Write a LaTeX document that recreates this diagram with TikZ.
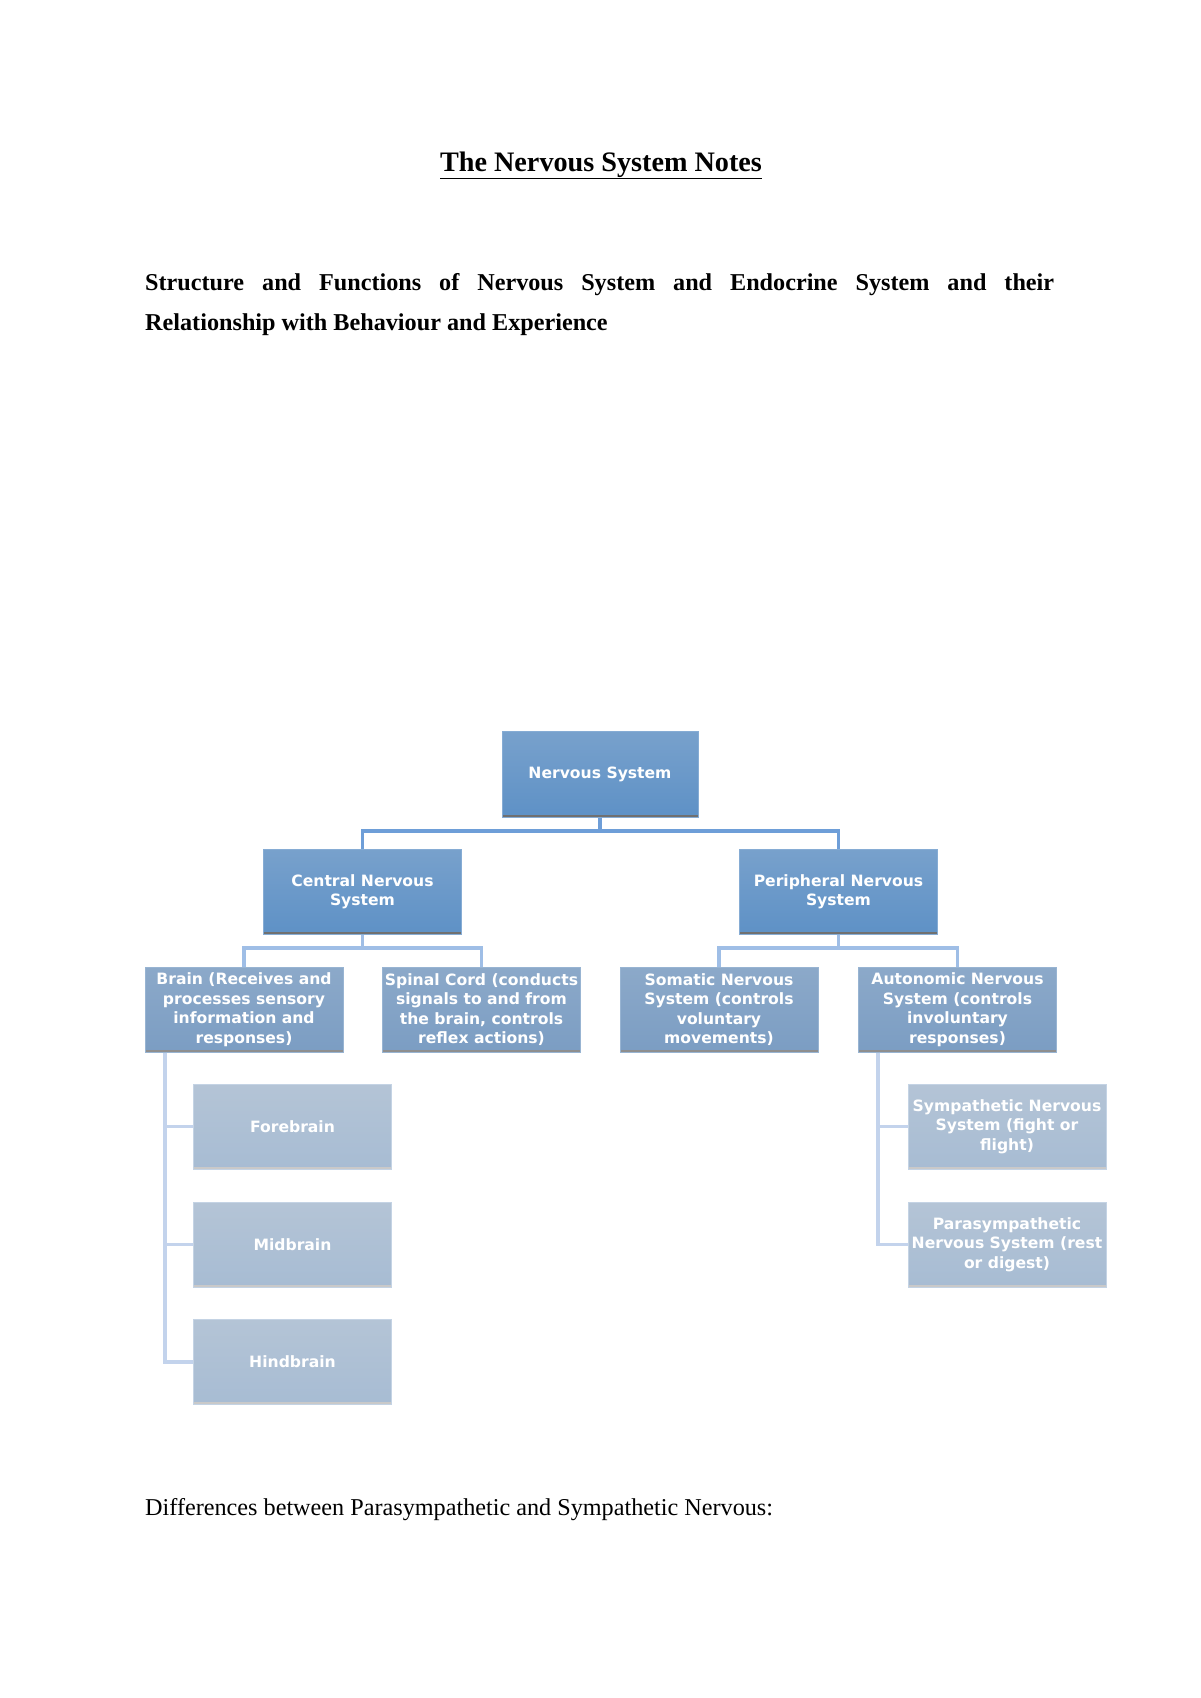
\documentclass[tikz,border=0pt]{standalone}
\usepackage{fontspec}
\setmainfont{Liberation Serif}
\newfontfamily\boxfont{DejaVu Sans}
\usetikzlibrary{shadings}
\definecolor{Aone}{HTML}{78A1CC}
\definecolor{Bone}{HTML}{5E91C6}
\definecolor{Eone}{HTML}{86ACD4}
\definecolor{Sone}{HTML}{707070}
\definecolor{Atwo}{HTML}{8CA9C9}
\definecolor{Btwo}{HTML}{7B9DC3}
\definecolor{Etwo}{HTML}{98B4D2}
\definecolor{Stwo}{HTML}{8E8E8E}
\definecolor{Athree}{HTML}{B4C4D6}
\definecolor{Bthree}{HTML}{A7BCD3}
\definecolor{Ethree}{HTML}{C4D3E4}
\definecolor{Sthree}{HTML}{C9C9C9}
\definecolor{Cone}{HTML}{6E9ED8}
\definecolor{Ctwo}{HTML}{9FBEE6}
\definecolor{Cthree}{HTML}{C3D3EC}
\begin{document}
\begin{tikzpicture}[x=1pt,y=-1pt,
  box/.style={rectangle, inner sep=0pt, minimum width=198pt, minimum height=85pt,
    align=center, text=white, line width=1pt,
    font=\boxfont\bfseries\fontsize{15.6}{19.5}\selectfont},
  lvlone/.style={box, top color=Aone, bottom color=Bone, draw=Eone,
    path picture={\fill[Sone] ([yshift=2.5pt]path picture bounding box.south west) rectangle (path picture bounding box.south east);}},
  lvltwo/.style={box, top color=Atwo, bottom color=Btwo, draw=Etwo,
    path picture={\fill[Stwo] ([yshift=2.5pt]path picture bounding box.south west) rectangle (path picture bounding box.south east);}},
  lvlthree/.style={box, top color=Athree, bottom color=Bthree, draw=Ethree,
    path picture={\fill[Sthree] ([yshift=2.5pt]path picture bounding box.south west) rectangle (path picture bounding box.south east);}},
  linkone/.style={draw=Cone, line width=3.5pt},
  linktwo/.style={draw=Ctwo, line width=3.8pt},
  linkthree/.style={draw=Cthree, line width=3.8pt},
  doctext/.style={anchor=base west, inner sep=0pt, font=\fontsize{24.2}{30}\selectfont}
]
\useasboundingbox[fill=white] (0,0) rectangle (1200,1698);

% texts
\node[anchor=base, inner sep=0pt, font=\bfseries\fontsize{28.2}{34}\selectfont] (title) at (601,171) {\underline{The Nervous System Notes}};
\node[doctext, font=\bfseries\fontsize{24.2}{30}\selectfont] (lineA) at (145,290)
  {\makebox[909pt][s]{Structure and Functions of Nervous System and Endocrine System and their}};
\node[doctext, font=\bfseries\fontsize{24.2}{30}\selectfont] (lineB) at (145,330)
  {Relationship with Behaviour and Experience};
\node[doctext] (diff) at (145,1515) {Differences between Parasympathetic and Sympathetic Nervous:};

% coordinates for bars
\coordinate (barone) at (0,831);
\coordinate (bartwo) at (0,948);
\coordinate (spineL) at (165,0);
\coordinate (spineR) at (878,0);

% connectors drawn first (behind boxes) using named nodes later -> use on background via order
\node[lvlone, minimum width=196pt, minimum height=86pt] (ns) at (600,774) {Nervous System};
\node[lvlone] (cns) at (362.5,891.5) {Central Nervous\\System};
\node[lvlone] (pns) at (838.5,891.5) {Peripheral Nervous\\System};

\node[lvltwo] (brain) at (244,1009.5) {Brain (Receives and\\processes sensory\\information and\\responses)};
\node[lvltwo] (spinal) at (481.5,1009.5) {Spinal Cord (conducts\\signals to and from\\the brain, controls\\reflex actions)};
\node[lvltwo] (somatic) at (719,1009.5) {Somatic Nervous\\System (controls\\voluntary\\movements)};
\node[lvltwo] (auto) at (957.5,1009.5) {Autonomic Nervous\\System (controls\\involuntary\\responses)};

\node[lvlthree] (fore) at (292.5,1126.5) {Forebrain};
\node[lvlthree] (mid) at (292.5,1244.5) {Midbrain};
\node[lvlthree] (hind) at (292.5,1362) {Hindbrain};
\node[lvlthree] (symp) at (1007,1126.5) {Sympathetic Nervous\\System (fight or\\flight)};
\node[lvlthree] (para) at (1007,1244.5) {Parasympathetic\\Nervous System (rest\\or digest)};

% connectors
\draw[linkone] (ns.south) -- (ns.south |- barone) -| (cns.north);
\draw[linkone] (ns.south |- barone) -| (pns.north);
\draw[linktwo] (cns.south) -- (cns.south |- bartwo) -| (brain.north);
\draw[linktwo] (cns.south |- bartwo) -| (spinal.north);
\draw[linktwo] (pns.south) -- (pns.south |- bartwo) -| (somatic.north);
\draw[linktwo] (pns.south |- bartwo) -| (auto.north);
\draw[linkthree] (brain.south -| spineL) |- (fore.west);
\draw[linkthree] (brain.south -| spineL) |- (mid.west);
\draw[linkthree] (brain.south -| spineL) |- (hind.west);
\draw[linkthree] (auto.south -| spineR) |- (symp.west);
\draw[linkthree] (auto.south -| spineR) |- (para.west);
\end{tikzpicture}
\end{document}
